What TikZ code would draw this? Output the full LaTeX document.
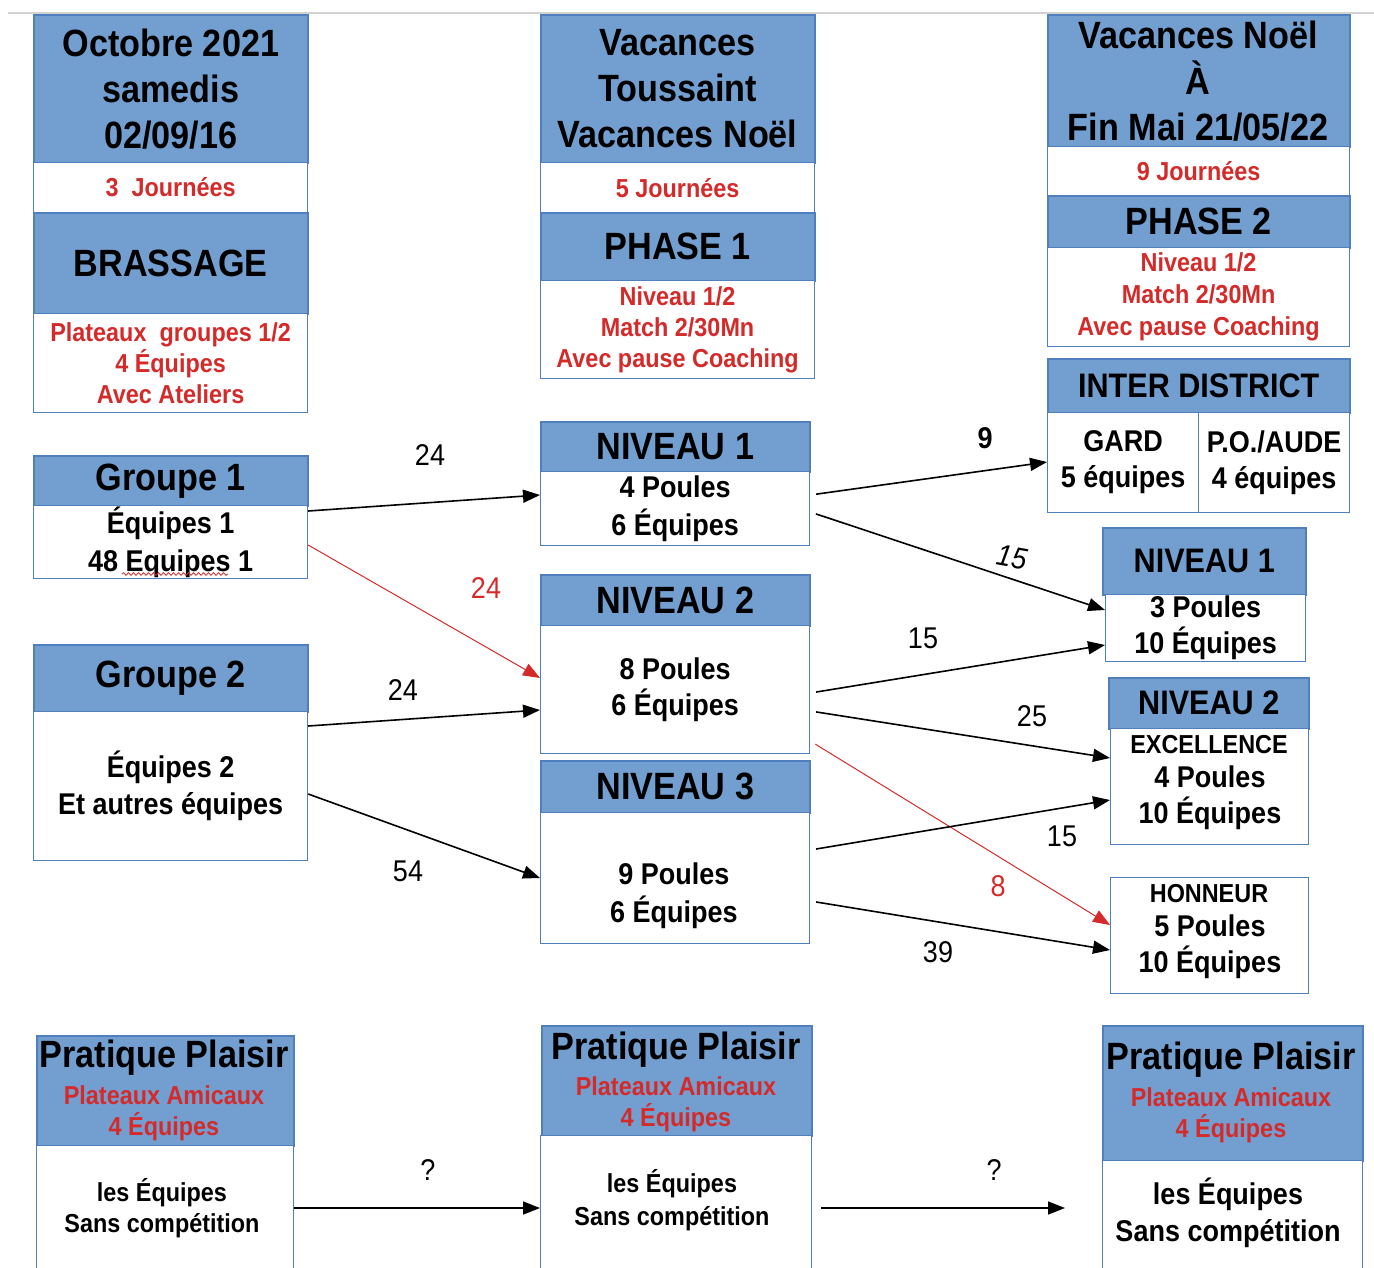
\documentclass[tikz,border=0pt]{standalone}
\usepackage{fontspec}
\setmainfont{Liberation Sans}[FakeStretch=0.9]
\usetikzlibrary{arrows.meta,decorations.pathmorphing}
\definecolor{hb}{HTML}{729FCF}
\definecolor{bd}{HTML}{4F7FBF}
\definecolor{rd}{HTML}{D42A2A}
\newcommand\fsz[2]{\fontsize{#1}{#2}\selectfont}
\begin{document}
\begin{tikzpicture}[x=1pt,y=-1pt,
 hd/.style={draw=bd, fill=hb, line width=1.5pt, inner sep=0pt, anchor=north west, align=center},
 wc/.style={draw=bd, fill=white, line width=1.2pt, inner sep=0pt, anchor=north west, align=center},
 rt/.style={text=rd},
 txt/.style={inner sep=0pt, align=center},
 arr/.style={line width=1.6pt, -{Triangle[length=17pt,width=13pt]}},
 rarr/.style={draw=rd, line width=1pt, -{Triangle[length=17pt,width=13pt]}},
 lab/.style={inner sep=0pt, font=\fsz{30}{34}},
 rlab/.style={inner sep=0pt, font=\fsz{30}{34}, text=rd},
 big/.style={font=\bfseries\fsz{38}{46}},
 red/.style={font=\bfseries\fsz{26}{31}, text=rd},
 mid/.style={font=\bfseries\fsz{30}{37}}
]
\useasboundingbox (0,0) rectangle (1374,1267);
\draw[gray!35, line width=1.5pt] (8,13) -- (1374,13);

% column 1
\node[hd, big, minimum width=274, minimum height=148] (c1h) at (33,14) {Octobre 2021\\samedis\\02/09/16};
\node[wc, red, minimum width=274, minimum height=50] (c1j) at (33,162) {3\ \ Journées};
\node[hd, big, minimum width=274, minimum height=101] (c1b) at (33,212) {BRASSAGE};
\node[wc, red, minimum width=274, minimum height=99] (c1n) at (33,313) {Plateaux\ \ groupes 1/2\\4 Équipes\\Avec Ateliers};

% column 2
\node[hd, big, minimum width=274, minimum height=148] (c2h) at (540,14) {Vacances\\Toussaint\\Vacances Noël};
\node[wc, red, minimum width=274, minimum height=50] (c2j) at (540,162) {5 Journées};
\node[hd, big, minimum width=274, minimum height=68] (c2p) at (540,212) {PHASE 1};
\node[wc, red, minimum width=274, minimum height=98] (c2n) at (540,280) {Niveau 1/2\\Match 2/30Mn\\Avec pause Coaching};

% column 3
\node[hd, minimum width=302, minimum height=132] (c3h) at (1047,14) {};
\node[txt, big] (c3t) at (1198,81) {Vacances Noël\\À\\Fin Mai 21/05/22};
\node[wc, red, minimum width=302, minimum height=49] (c3j) at (1047,146) {9 Journées};
\node[hd, big, minimum width=302, minimum height=52] (c3p) at (1047,195) {PHASE 2};
\node[wc, red, font=\bfseries\fsz{26}{32}, minimum width=302, minimum height=99] (c3n) at (1047,247) {Niveau 1/2\\Match 2/30Mn\\Avec pause Coaching};
\node[hd, font=\bfseries\fsz{34}{40}, minimum width=302, minimum height=54] (id) at (1047,358) {INTER DISTRICT};
\node[wc, font=\bfseries\fsz{30}{36}, minimum width=151, minimum height=100] (ga) at (1047,412) {GARD\\5 équipes};
\node[wc, font=\bfseries\fsz{30}{36}, minimum width=151, minimum height=100] (po) at (1198,412) {P.O./AUDE\\4 équipes};

% groups
\node[hd, font=\bfseries\fsz{38}{42}, minimum width=274, minimum height=50] (g1h) at (33,455) {Groupe 1};
\node[wc, font=\bfseries\fsz{30}{38}, minimum width=274, minimum height=73] (g1b) at (33,505) {Équipes 1\\48 Equipes 1};
\draw[rd, line width=0.8pt, decorate, decoration={snake, amplitude=1.3pt, segment length=5pt}] (122,574) -- (228,574);
\node[hd, font=\bfseries\fsz{38}{42}, minimum width=274, minimum height=67] (g2h) at (33,644) {Groupe 2};
\node[wc, mid, minimum width=274, minimum height=149] (g2b) at (33,711) {Équipes 2\\Et autres équipes};

% middle levels
\node[hd, font=\bfseries\fsz{38}{42}, minimum width=269, minimum height=50] (n1h) at (540,421) {NIVEAU 1};
\node[wc, font=\bfseries\fsz{30}{38}, minimum width=269, minimum height=74] (n1b) at (540,471) {4 Poules\\6 Équipes};
\node[hd, font=\bfseries\fsz{38}{42}, minimum width=269, minimum height=51] (n2h) at (540,574) {NIVEAU 2};
\node[wc, font=\bfseries\fsz{30}{36}, minimum width=269, minimum height=128] (n2b) at (540,625) {8 Poules\\6 Équipes};
\node[hd, font=\bfseries\fsz{38}{42}, minimum width=269, minimum height=52] (n3h) at (540,760) {NIVEAU 3};
\node[wc, minimum width=269, minimum height=131] (n3b) at (540,812) {};
\node[txt, font=\bfseries\fsz{30}{38}] (n3t) at (674,896) {9 Poules\\6 Équipes};

% right levels
\node[hd, font=\bfseries\fsz{34}{38}, minimum width=203, minimum height=67] (r1h) at (1102,527) {NIVEAU 1};
\node[wc, font=\bfseries\fsz{30}{36}, minimum width=200, minimum height=67] (r1b) at (1105,594) {3 Poules\\10 Équipes};
\node[hd, font=\bfseries\fsz{34}{38}, minimum width=200, minimum height=51] (r2h) at (1108,677) {NIVEAU 2};
\node[wc, minimum width=198, minimum height=116] (r2b) at (1110,728) {};
\node[txt, font=\bfseries\fsz{26}{30}] (r2e) at (1209,745) {EXCELLENCE};
\node[txt, font=\bfseries\fsz{30}{36}] (r2t) at (1210,798) {4 Poules\\10 Équipes};
\node[wc, minimum width=198, minimum height=116] (ho) at (1110,877) {};
\node[txt, font=\bfseries\fsz{26}{30}] (hoe) at (1209,894) {HONNEUR};
\node[txt, font=\bfseries\fsz{30}{36}] (hot) at (1210,947) {5 Poules\\10 Équipes};

% pratique plaisir
\node[hd, minimum width=257, minimum height=110] (p1h) at (36,1035) {};
\node[txt, big] (p1t) at (164,1058) {Pratique Plaisir};
\node[txt, red] (p1r) at (164,1113) {Plateaux Amicaux\\4 Équipes};
\node[wc, minimum width=257, minimum height=135] (p1b) at (36,1145) {};
\node[txt, font=\bfseries\fsz{26}{31}] (p1s) at (162,1208) {les Équipes\\Sans compétition};

\node[hd, minimum width=270, minimum height=110] (p2h) at (541,1025) {};
\node[txt, big] (p2t) at (676,1050) {Pratique Plaisir};
\node[txt, red] (p2r) at (676,1104) {Plateaux Amicaux\\4 Équipes};
\node[wc, minimum width=271, minimum height=145] (p2b) at (540,1135) {};
\node[txt, font=\bfseries\fsz{26}{33}] (p2s) at (672,1200) {les Équipes\\Sans compétition};

\node[hd, minimum width=260, minimum height=135] (p3h) at (1102,1025) {};
\node[txt, big] (p3t) at (1231,1060) {Pratique Plaisir};
\node[txt, red] (p3r) at (1231,1115) {Plateaux Amicaux\\4 Équipes};
\node[wc, minimum width=260, minimum height=120] (p3b) at (1102,1160) {};
\node[txt, font=\bfseries\fsz{30}{37}] (p3s) at (1228,1213) {les Équipes\\Sans compétition};

% arrows
\draw[arr] (g1b.east |- 0,511) -- (n1b.west |- 0,495);
\draw[rarr] (g1b.east |- 0,545) -- (n2b.west |- 0,678);
\draw[arr] (g2b.east |- 0,726) -- (n2b.west |- 0,710);
\draw[arr] (g2b.east |- 0,794) -- (n3b.west |- 0,878);
\draw[arr, shorten <=6pt] (n1b.east |- 0,495) -- (ga.west |- 0,462);
\draw[arr, shorten <=6pt] (n1b.east |- 0,512) -- (r1b.west |- 0,610);
\draw[arr, shorten <=6pt] (n2b.east |- 0,693) -- (r1b.west |- 0,645);
\draw[arr, shorten <=6pt] (n2b.east |- 0,711) -- (r2b.west |- 0,758);
\draw[rarr, shorten <=6pt] (n2b.east |- 0,741) -- (ho.west |- 0,925);
\draw[arr, shorten <=6pt] (n3b.east |- 0,850) -- (r2b.west |- 0,800);
\draw[arr, shorten <=6pt] (n3b.east |- 0,901) -- (ho.west |- 0,950);
\draw[arr] (p1b.east |- 0,1208) -- (p2b.west |- 0,1208);
\draw[arr, shorten <=9pt, shorten >=37pt] (p2b.east |- 0,1208) -- (p3b.west |- 0,1208);

% labels
\node[lab] (l1) at (430,455) {24};
\node[rlab] (l2) at (486,588) {24};
\node[lab] (l3) at (403,690) {24};
\node[lab] (l4) at (408,871) {54};
\node[lab, font=\bfseries\fsz{30}{34}] (l5) at (985,438) {9};
\node[lab, font=\itshape\fsz{30}{34}, rotate=-10] (l6) at (1012,557) {15};
\node[lab] (l7) at (923,638) {15};
\node[lab] (l8) at (1032,716) {25};
\node[rlab] (l9) at (998,886) {8};
\node[lab] (l10) at (1062,836) {15};
\node[lab] (l11) at (938,952) {39};
\node[lab] (l12) at (428,1170) {?};
\node[lab] (l13) at (994,1170) {?};
\end{tikzpicture}
\end{document}
